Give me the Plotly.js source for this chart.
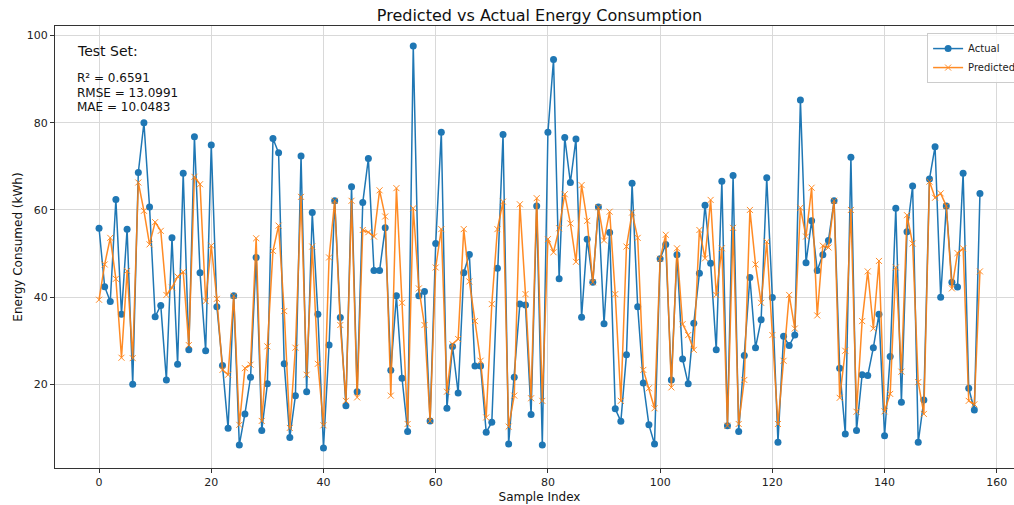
<!DOCTYPE html>
<html>
<head>
<meta charset="utf-8">
<script src="https://cdn.plot.ly/plotly-3.0.1.min.js"></script>
<style>
html,body{margin:0;padding:0;overflow:hidden;background:#fff;}
#chart{width:1040px;height:505px;}
</style>
</head>
<body>
<div id="chart"></div>
<script>
const sampleIndex = Array.from({length: 158}, (_, i) => i);

const actual = [
55.8,42.4,39.0,62.4,36.1,55.6,20.0,68.6,80.0,60.7,
35.5,38.1,21.0,53.6,24.6,68.4,27.9,76.8,45.6,27.7,
74.9,37.8,24.3,9.9,40.3,6.1,13.2,21.6,49.1,9.4,
20.1,76.4,73.1,24.7,7.8,17.4,72.4,18.3,59.4,36.1,
5.4,29.0,62.1,35.3,15.1,65.3,18.3,61.7,71.8,46.1,
46.1,55.9,23.2,40.3,21.4,9.2,97.6,40.3,41.3,11.6,
52.3,77.8,14.5,28.7,18.0,45.6,49.8,24.2,24.2,9.0,
11.3,46.6,77.3,6.3,21.6,38.4,38.2,13.1,60.9,6.1,
77.8,94.5,44.2,76.6,66.3,76.3,35.4,53.3,43.4,60.7,
33.9,54.8,14.4,11.5,26.8,66.1,37.8,20.3,10.7,6.3,
48.8,52.1,21.0,49.7,25.8,20.1,34.0,45.5,61.1,47.8,
27.9,66.6,10.5,67.9,9.2,26.6,44.5,28.4,34.8,67.4,
39.9,6.7,31.0,28.9,31.3,85.2,47.9,57.5,46.1,49.7,
53.0,62.1,23.7,8.6,72.1,9.4,22.2,22.0,28.4,36.1,
8.2,26.4,60.4,15.9,55.0,65.5,6.7,16.4,67.1,74.5,
40.0,60.9,43.4,42.3,68.4,19.1,14.1,63.8
];

const predicted = [
39.4,47.5,53.6,44.2,26.1,46.0,26.0,66.3,59.8,52.1,
57.2,55.2,40.5,42.2,44.7,45.8,29.0,67.6,65.9,39.1,
51.8,39.6,23.3,22.2,40.3,10.7,23.7,24.5,53.5,11.6,
28.7,50.6,56.4,36.8,10.0,28.4,63.0,22.2,51.6,24.7,
10.6,49.1,62.1,33.6,16.2,62.1,17.0,55.4,54.9,53.9,
64.5,58.5,17.4,65.0,38.7,10.9,60.4,42.0,33.6,11.6,
46.8,55.6,18.3,29.2,30.4,55.6,43.6,34.5,25.4,12.4,
38.4,55.6,61.9,10.3,17.4,61.3,40.7,16.8,62.7,16.2,
53.3,50.3,55.8,63.6,56.9,48.1,65.7,57.5,43.4,60.6,
53.0,59.6,40.7,16.2,51.6,59.4,53.6,23.3,19.1,14.5,
48.8,54.3,19.3,51.2,33.8,31.3,27.9,55.4,48.9,62.3,
40.5,51.2,10.5,55.9,10.9,21.0,60.0,47.5,38.7,52.7,
31.3,10.9,25.4,40.5,32.8,60.5,53.9,65.1,35.8,51.8,
51.4,62.1,16.9,27.7,60.0,13.7,34.5,45.9,32.8,48.3,
13.8,17.8,46.8,22.9,58.8,52.3,20.5,13.2,66.5,62.8,
63.8,60.9,42.0,50.1,51.2,16.2,15.4,45.9
];

const xTicks = [0, 20, 40, 60, 80, 100, 120, 140, 160];
const yTicks = [20, 40, 60, 80, 100];
const metricLines = ["R² = 0.6591", "RMSE = 13.0991", "MAE = 10.0483"];

const FONT = "DejaVu Sans, Liberation Sans, sans-serif";

const traces = [
  {
    x: sampleIndex, y: actual, name: "Actual", type: "scatter", mode: "lines+markers",
    line: {color: "#1f77b4", width: 1.5},
    marker: {color: "#1f77b4", size: 7, symbol: "circle"}
  },
  {
    x: sampleIndex, y: predicted, name: "Predicted", type: "scatter", mode: "lines+markers",
    opacity: 0.9,
    line: {color: "#ff7f0e", width: 1.5},
    marker: {color: "#ff7f0e", size: 6, symbol: "x-thin", line: {color: "#ff7f0e", width: 1}}
  }
];

const metricY = [0.882, 0.849, 0.816];
const annotations = [
  {text: "Test Set:", xref: "paper", yref: "paper", x: 0.0206, y: 0.944, xanchor: "left", yanchor: "middle",
   showarrow: false, font: {family: FONT, size: 14, color: "#111"}}
].concat(metricLines.map((t, k) => ({
  text: t, xref: "paper", yref: "paper", x: 0.0206, y: metricY[k], xanchor: "left", yanchor: "middle",
  showarrow: false, font: {family: FONT, size: 12, color: "#111"}
})));

const layout = {
  width: 1040, height: 505,
  margin: {l: 55, r: 16, t: 26, b: 37},
  paper_bgcolor: "#fff", plot_bgcolor: "#fff",
  font: {family: FONT, size: 11, color: "#222"},
  title: {text: "Predicted vs Actual Energy Consumption", x: 0.5, xref: "paper", xanchor: "center",
          y: 0.97, yref: "container", yanchor: "middle", font: {family: FONT, size: 16, color: "#111"}},
  xaxis: {
    range: [-7.85, 164.85], tickvals: xTicks, ticktext: xTicks.map(String),
    showgrid: true, gridcolor: "#d9d9d9", gridwidth: 1, zeroline: false,
    showline: true, linecolor: "#333", linewidth: 1, mirror: true,
    ticks: "outside", ticklen: 4, tickcolor: "#333",
    title: {text: "Sample Index", font: {family: FONT, size: 12, color: "#111"}, standoff: 4}
  },
  yaxis: {
    range: [0.8, 102.2], tickvals: yTicks, ticktext: yTicks.map(String),
    showgrid: true, gridcolor: "#d9d9d9", gridwidth: 1, zeroline: false,
    showline: true, linecolor: "#333", linewidth: 1, mirror: true,
    ticks: "outside", ticklen: 4, tickcolor: "#333",
    title: {text: "Energy Consumed (kWh)", font: {family: FONT, size: 12, color: "#111"}, standoff: 1}
  },
  legend: {x: 0.9, y: 0.984, xanchor: "left", yanchor: "top", bgcolor: "rgba(255,255,255,0.8)",
           bordercolor: "#cccccc", borderwidth: 1, itemwidth: 30,
           font: {family: FONT, size: 10, color: "#222"}},
  annotations: annotations,
  showlegend: true
};

Plotly.newPlot("chart", traces, layout, {displayModeBar: false, staticPlot: true});
</script>
</body>
</html>
